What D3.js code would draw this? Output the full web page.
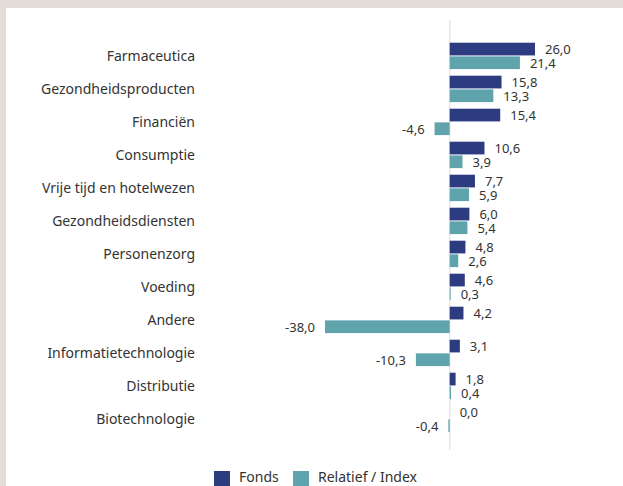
<!DOCTYPE html>
<html>
<head>
<meta charset="utf-8">
<script src="https://cdn.jsdelivr.net/npm/d3@7"></script>
<style>
  body { margin: 0; background: #e3ddd9; }
  svg { display: block; }
</style>
</head>
<body>
<svg id="chart" width="623" height="486"></svg>
<script>
// data *********************************************************************
var categories = ["Farmaceutica", "Gezondheidsproducten", "Financiën", "Consumptie",
  "Vrije tijd en hotelwezen", "Gezondheidsdiensten", "Personenzorg", "Voeding",
  "Andere", "Informatietechnologie", "Distributie", "Biotechnologie"]
var fonds = [26.0, 15.8, 15.4, 10.6, 7.7, 6.0, 4.8, 4.6, 4.2, 3.1, 1.8, 0.0]
var relatief = [21.4, 13.3, -4.6, 3.9, 5.9, 5.4, 2.6, 0.3, -38.0, -10.3, 0.4, -0.4]
var seriesNames = ["Fonds", "Relatief / Index"]
var seriesCol = ["#2d3c80", "#5fa3ad"]

var rows = categories.map(function(c, i){ return {cat: c, vals: [fonds[i], relatief[i]]} })

var svg = d3.select("#chart")
var font = "'Noto Sans', 'Open Sans', sans-serif"

// white panel
svg.append("rect").attr("x", 6).attr("y", 8).attr("width", 617).attr("height", 478).style("fill", "#ffffff")

// scales
var x = d3.scaleLinear().domain([-38, 26]).range([325, 535])
var y = d3.scaleBand().domain(categories).range([39.4, 435.4]).paddingInner(0.2).paddingOuter(0.1)
var ySub = d3.scaleBand().domain([0, 1]).range([0, y.bandwidth()]).paddingInner(0.07)

// zero line
svg.append("line").attr("x1", x(0)).attr("x2", x(0)).attr("y1", 20).attr("y2", 450)
  .style("stroke", "#e6e6e6").style("stroke-width", 1.5)

// category labels
svg.selectAll(".cat").data(rows).enter().append("text")
  .attr("x", 195).attr("y", function(d){ return y(d.cat) + y.bandwidth() / 2 })
  .attr("text-anchor", "end").attr("dominant-baseline", "central")
  .style("font-family", font).style("font-size", "14px").style("fill", "#333")
  .text(function(d){ return d.cat })

var fmt = function(v){ return v.toFixed(1).replace(".", ",") }

var groups = svg.selectAll(".grp").data(rows).enter().append("g")
  .attr("transform", function(d){ return "translate(0," + y(d.cat) + ")" })

groups.selectAll("rect").data(function(d){ return d.vals }).enter().append("rect")
  .attr("x", function(v){ return x(Math.min(0, v)) })
  .attr("y", function(v, i){ return ySub(i) })
  .attr("width", function(v){ return Math.abs(x(v) - x(0)) })
  .attr("height", ySub.bandwidth())
  .style("fill", function(v, i){ return seriesCol[i] })

groups.selectAll("text").data(function(d){ return d.vals }).enter().append("text")
  .attr("x", function(v){ return v < 0 ? x(v) - 10 : x(v) + 10 })
  .attr("y", function(v, i){ return ySub(i) + ySub.bandwidth() / 2 })
  .attr("text-anchor", function(v){ return v < 0 ? "end" : "start" })
  .attr("dominant-baseline", "central")
  .style("font-family", font).style("font-size", "13px").style("fill", "#333")
  .text(function(v){ return fmt(v) })

// legend
var legX = [214, 293]
seriesNames.forEach(function(name, i){
  svg.append("rect").attr("x", legX[i]).attr("y", 471).attr("width", 16).attr("height", 16)
    .style("fill", seriesCol[i])
  svg.append("text").attr("x", legX[i] + 25).attr("y", 476.5)
    .attr("dominant-baseline", "central")
    .style("font-family", font).style("font-size", "14px").style("fill", "#333")
    .text(name)
})
</script>
</body>
</html>
